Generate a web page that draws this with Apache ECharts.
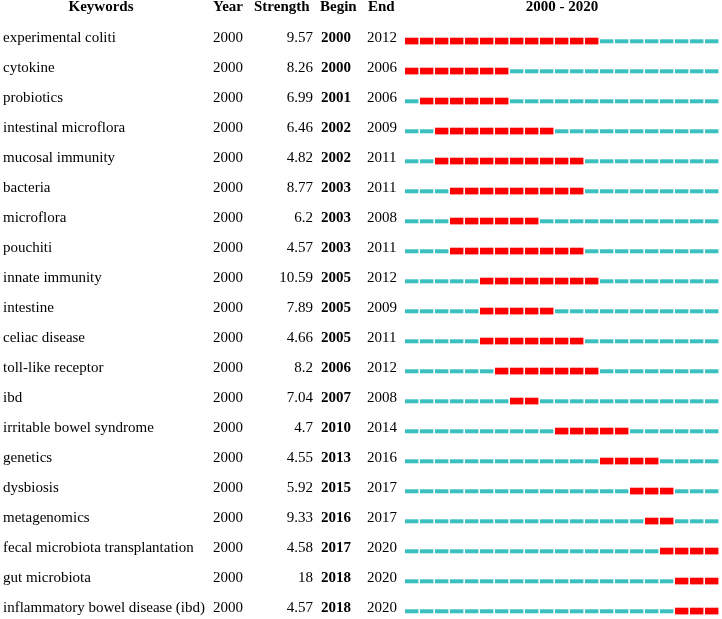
<!DOCTYPE html>
<html><head><meta charset="utf-8">
<script src="https://cdn.jsdelivr.net/npm/echarts@6/dist/echarts.min.js"></script>
<style>html,body{margin:0;padding:0;background:#fff}#c{width:722px;height:619px}</style>
</head><body><div id="c"></div>
<script>
const keywords = ["experimental coliti","cytokine","probiotics","intestinal microflora","mucosal immunity","bacteria","microflora","pouchiti","innate immunity","intestine","celiac disease","toll-like receptor","ibd","irritable bowel syndrome","genetics","dysbiosis","metagenomics","fecal microbiota transplantation","gut microbiota","inflammatory bowel disease (ibd)"];
const years = [2000,2000,2000,2000,2000,2000,2000,2000,2000,2000,2000,2000,2000,2000,2000,2000,2000,2000,2000,2000];
const strengths = ["9.57","8.26","6.99","6.46","4.82","8.77","6.2","4.57","10.59","7.89","4.66","8.2","7.04","4.7","4.55","5.92","9.33","4.58","18","4.57"];
const begins = [2000,2000,2001,2002,2002,2003,2003,2003,2005,2005,2005,2006,2007,2010,2013,2015,2016,2017,2018,2018];
const ends = [2012,2006,2006,2009,2011,2011,2008,2011,2012,2009,2011,2012,2008,2014,2016,2017,2017,2020,2020,2020];
const headers = ["Keywords","Year","Strength","Begin","End"];
const rangeStart = 2000, rangeEnd = 2020;

const FONT = "'Liberation Serif','Times New Roman',serif";
const chart = echarts.init(document.getElementById('c'));
const rows = keywords.map((k,i)=>[i]);

chart.setOption({
  animation:false,
  grid:{left:405,width:315,top:26,height:592.5},
  xAxis:{type:'value',min:rangeStart,max:rangeEnd+1,show:false},
  yAxis:{type:'value',inverse:true,min:-0.5,max:19.25,show:false},
  graphic:[
    {type:'text',x:101,y:7,style:{text:headers[0],font:'bold 15px '+FONT,fill:'#000',align:'center',verticalAlign:'middle'}},
    {type:'text',x:213,y:7,style:{text:headers[1],font:'bold 15px '+FONT,fill:'#000',align:'left',verticalAlign:'middle'}},
    {type:'text',x:254,y:7,style:{text:headers[2],font:'bold 15px '+FONT,fill:'#000',align:'left',verticalAlign:'middle'}},
    {type:'text',x:320,y:7,style:{text:headers[3],font:'bold 15px '+FONT,fill:'#000',align:'left',verticalAlign:'middle'}},
    {type:'text',x:368,y:7,style:{text:headers[4],font:'bold 15px '+FONT,fill:'#000',align:'left',verticalAlign:'middle'}},
    {type:'text',x:562,y:7,style:{text:rangeStart+' - '+rangeEnd,font:'bold 15px '+FONT,fill:'#000',align:'center',verticalAlign:'middle'}}
  ],
  series:[
    {
      type:'custom', clip:false, data:rows,
      encode:{y:0},
      renderItem:function(params,api){
        const i = api.value(0);
        const cy = api.coord([rangeStart,i])[1];
        const ty = cy - 2.5;
        const t = (txt,x,align,bold)=>({type:'text',style:{text:txt,x:x,y:ty,align:align,verticalAlign:'middle',font:(bold?'bold ':'')+'15px '+FONT,fill:'#000'}});
        return {type:'group',children:[
          t(keywords[i],3,'left',false),
          t(String(years[i]),213,'left',false),
          t(strengths[i],313,'right',false),
          t(String(begins[i]),321,'left',true),
          t(String(ends[i]),367,'left',false)
        ]};
      }
    },
    {
      type:'custom', clip:false, data:rows,
      encode:{y:0},
      renderItem:function(params,api){
        const i = api.value(0);
        const children = [];
        for(let y=rangeStart;y<=rangeEnd;y++){
          const p0 = api.coord([y,i]);
          const p1 = api.coord([y+1,i]);
          const w = (p1[0]-p0[0]) - 1.6;
          const burst = y>=begins[i] && y<=ends[i];
          if(burst){
            children.push({type:'rect',shape:{x:p0[0],y:p0[1]-3.3,width:w,height:6.7},style:{fill:'#ff0000'}});
          } else {
            children.push({type:'rect',shape:{x:p0[0],y:p0[1]-1.7,width:w,height:4},style:{fill:'#3cbfbf'}});
          }
        }
        return {type:'group',children:children};
      }
    }
  ]
});
</script></body></html>
